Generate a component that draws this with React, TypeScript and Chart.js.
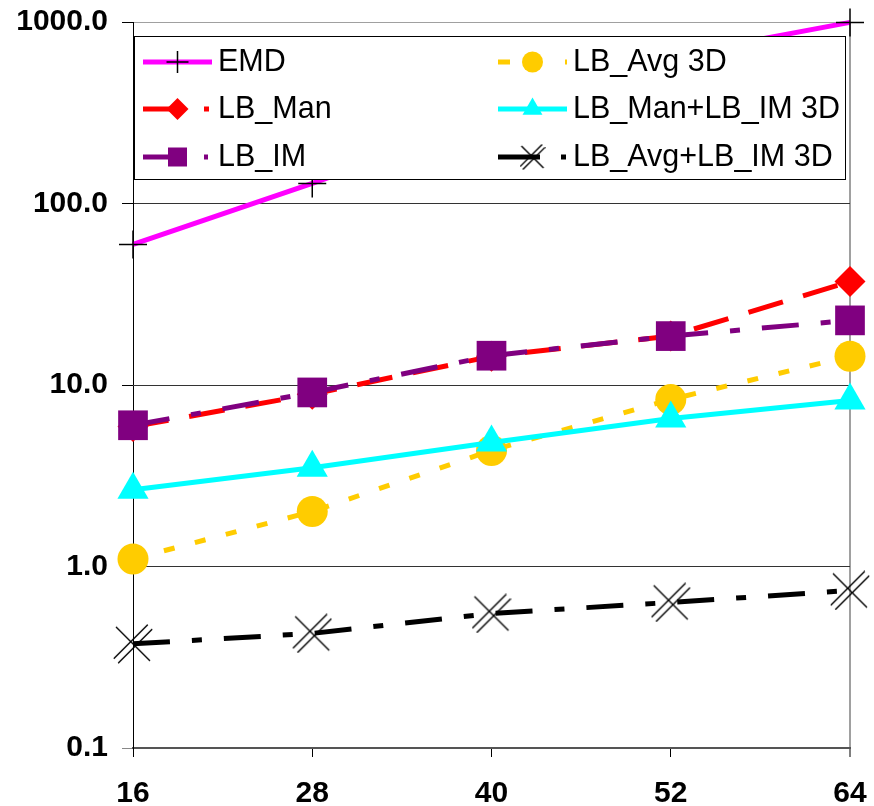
import React, { useEffect, useRef } from 'react';
import { Chart, registerables } from 'chart.js';

Chart.register(...registerables);

// ---- data ----
const categories = ['16', '28', '40', '52', '64'];
const seriesNames = ['EMD', 'LB_Man', 'LB_IM', 'LB_Avg 3D', 'LB_Man+LB_IM 3D', 'LB_Avg+LB_IM 3D'];
const emd = [59.5, 129, 290, 650, 995];
const lbMan = [5.9, 8.9, 14.4, 18.6, 37.2];
const lbIm = [6.0, 9.1, 14.5, 18.6, 22.7];
const lbAvg3d = [1.1, 2.01, 4.36, 8.32, 14.4];
const lbManIm3d = [2.65, 3.5, 4.82, 6.54, 8.22];
const lbAvgIm3d = [0.375, 0.428, 0.551, 0.634, 0.738];
const yTickValues = [0.1, 1, 10, 100, 1000];

const FONT = "'Liberation Sans', Arial, Helvetica, sans-serif";

function makeXMarker(scale: number): HTMLCanvasElement {
  const s = Math.round(40 * scale);
  const c = document.createElement('canvas');
  c.width = s;
  c.height = s;
  const g = c.getContext('2d')!;
  g.strokeStyle = '#000';
  g.lineWidth = 1.4;
  const a = 3 * scale;
  const b = s - 3 * scale;
  const off = 2.2 * scale;
  g.beginPath();
  g.moveTo(a, a);
  g.lineTo(b, b);
  g.moveTo(a - off, b - off);
  g.lineTo(b - off, a - off);
  g.moveTo(a + off, b + off);
  g.lineTo(b + off, a + off);
  g.stroke();
  return c;
}

type Marker = { style: string; r: number; fill: string; stroke: string };

function drawMarker(ctx: CanvasRenderingContext2D, m: Marker, x: number, y: number, img?: HTMLCanvasElement) {
  ctx.save();
  ctx.setLineDash([]);
  ctx.fillStyle = m.fill;
  ctx.strokeStyle = m.stroke;
  ctx.lineWidth = 1.5;
  const r = m.r;
  ctx.beginPath();
  switch (m.style) {
    case 'cross':
      ctx.moveTo(x - r, y);
      ctx.lineTo(x + r, y);
      ctx.moveTo(x, y - r);
      ctx.lineTo(x, y + r);
      ctx.stroke();
      break;
    case 'rectRot':
      ctx.moveTo(x, y - r);
      ctx.lineTo(x + r, y);
      ctx.lineTo(x, y + r);
      ctx.lineTo(x - r, y);
      ctx.closePath();
      ctx.fill();
      break;
    case 'rect':
      ctx.rect(x - r, y - r, 2 * r, 2 * r);
      ctx.fill();
      break;
    case 'circle':
      ctx.arc(x, y, r, 0, Math.PI * 2);
      ctx.fill();
      break;
    case 'triangle':
      ctx.moveTo(x, y - r);
      ctx.lineTo(x + r * 0.866, y + r * 0.5);
      ctx.lineTo(x - r * 0.866, y + r * 0.5);
      ctx.closePath();
      ctx.fill();
      break;
    case 'image':
      if (img) ctx.drawImage(img, x - img.width / 2, y - img.height / 2);
      break;
  }
  ctx.restore();
}

export default function App() {
  const canvasRef = useRef<HTMLCanvasElement | null>(null);

  useEffect(() => {
    document.body.style.margin = '0';
    const canvas = canvasRef.current;
    if (!canvas) return;

    const xMarker = makeXMarker(1);
    const xMarkerSmall = makeXMarker(0.65);

    const colors = ['#FF00FF', '#FF0000', '#800080', '#FFCC00', '#00FFFF', '#000000'];
    const dashes: number[][] = [[], [36, 21], [37, 22, 10, 22], [11, 21], [], [37, 22, 10, 22]];
    const values = [emd, lbMan, lbIm, lbAvg3d, lbManIm3d, lbAvgIm3d];
    const pStyles: any[] = ['cross', 'rectRot', 'rect', 'circle', 'triangle', xMarker];
    const pRadius = [14, 15.5, 21, 15.5, 18, 20];

    const datasets = values.map((vals, i) => ({
      label: seriesNames[i],
      data: vals,
      borderColor: colors[i],
      backgroundColor: colors[i],
      borderWidth: 5,
      borderDash: dashes[i],
      pointStyle: pStyles[i],
      pointRadius: pRadius[i],
      pointHoverRadius: pRadius[i],
      pointBackgroundColor: i === 0 ? '#000' : colors[i],
      pointBorderColor: i === 0 ? '#000' : colors[i],
      pointBorderWidth: i === 0 ? 1.5 : 0,
      tension: 0,
      fill: false,
      clip: false as any,
      order: 10 - i,
    }));

    const legendMarkers: Marker[] = [
      { style: 'cross', r: 11, fill: '#000', stroke: '#000' },
      { style: 'rectRot', r: 11, fill: '#FF0000', stroke: '#FF0000' },
      { style: 'rect', r: 9.5, fill: '#800080', stroke: '#800080' },
      { style: 'circle', r: 10.5, fill: '#FFCC00', stroke: '#FFCC00' },
      { style: 'triangle', r: 11.5, fill: '#00FFFF', stroke: '#00FFFF' },
      { style: 'image', r: 10, fill: '#000', stroke: '#000' },
    ];
    const legendDashes: number[][] = [[], [36, 25, 5, 100], [36, 25, 4, 100], [12, 55, 3, 100], [], [42, 21, 5, 100]];

    const legendPlugin = {
      id: 'boxLegend',
      afterDatasetsDraw(chart: any) {
        const { ctx, chartArea } = chart;
        const left = chartArea.left + 1;
        const top = chartArea.top + 14;
        const right = chartArea.right - 4;
        const bottom = chartArea.top + 158;
        ctx.save();
        ctx.fillStyle = '#fff';
        ctx.fillRect(left, top, right - left, bottom - top);
        ctx.strokeStyle = '#000';
        ctx.lineWidth = 1;
        ctx.strokeRect(left + 0.5, top + 0.5, right - left - 1, bottom - top - 1);
        const colX = [left + 9, left + 364];
        const rowY = [top + 26, top + 73, top + 121];
        ctx.font = `30.5px ${FONT}`;
        ctx.textBaseline = 'middle';
        ctx.textAlign = 'left';
        for (let i = 0; i < 6; i++) {
          const col = i < 3 ? 0 : 1;
          const row = i % 3;
          const x0 = colX[col];
          const x1 = x0 + 69;
          const y = rowY[row];
          ctx.save();
          ctx.strokeStyle = colors[i];
          ctx.lineWidth = 5;
          ctx.setLineDash(legendDashes[i]);
          ctx.beginPath();
          ctx.moveTo(x0, y);
          ctx.lineTo(x1, y);
          ctx.stroke();
          ctx.restore();
          drawMarker(ctx, legendMarkers[i], (x0 + x1) / 2, y, xMarkerSmall);
          ctx.fillStyle = '#000';
          ctx.fillText(seriesNames[i], x1 + 6, y + 1);
        }
        ctx.restore();
      },
    };

    const chart = new Chart(canvas, {
      type: 'line',
      data: { labels: categories, datasets: datasets as any },
      plugins: [legendPlugin],
      options: {
        animation: false,
        responsive: false,
        events: [],
        layout: { padding: { top: 22, right: 24, left: 0, bottom: 0 } },
        plugins: { legend: { display: false }, tooltip: { enabled: false } },
        scales: {
          x: {
            type: 'category',
            offset: false,
            afterFit: (s: any) => {
              s.height = 58;
              s.paddingLeft = 0;
              s.paddingRight = 0;
            },
            grid: {
              offset: false,
              drawOnChartArea: true,
              drawTicks: true,
              tickLength: 9,
              tickColor: '#000',
              tickWidth: 1,
              color: (c: any) => (c.index === 4 ? '#a0a0a0' : 'rgba(0,0,0,0)'),
              lineWidth: (c: any) => (c.index === 4 ? 2 : 1),
            },
            border: { display: true, color: '#555', width: 2 },
            ticks: {
              autoSkip: false,
              maxRotation: 0,
              padding: 19,
              color: '#000',
              font: { family: FONT, size: 30, weight: 'bold' },
            },
          },
          y: {
            type: 'logarithmic',
            min: 0.1,
            max: 1000,
            afterFit: (s: any) => {
              s.width = 133;
              s.paddingTop = 0;
              s.paddingBottom = 0;
            },
            afterBuildTicks: (s: any) => {
              s.ticks = yTickValues.map((v) => ({ value: v, major: true }));
            },
            grid: {
              drawTicks: true,
              tickLength: 11,
              color: (c: any) => {
                const v = c.tick ? c.tick.value : 0;
                if (v === 1000) return '#a0a0a0';
                if (v === 0.1) return '#666';
                return '#333';
              },
              tickColor: (c: any) => (c.tick && c.tick.value === 0.1 ? '#888' : '#000'),
              lineWidth: 1,
            },
            border: { display: true, color: '#000', width: 1 },
            ticks: {
              padding: 14,
              color: '#000',
              font: { family: FONT, size: 30, weight: 'bold' },
              callback: (v: any) => Number(v).toFixed(1),
            },
          },
        },
      } as any,
    });

    return () => chart.destroy();
  }, []);

  return (
    <div style={{ width: 874, height: 806 }}>
      <canvas ref={canvasRef} width={874} height={806} />
    </div>
  );
}
